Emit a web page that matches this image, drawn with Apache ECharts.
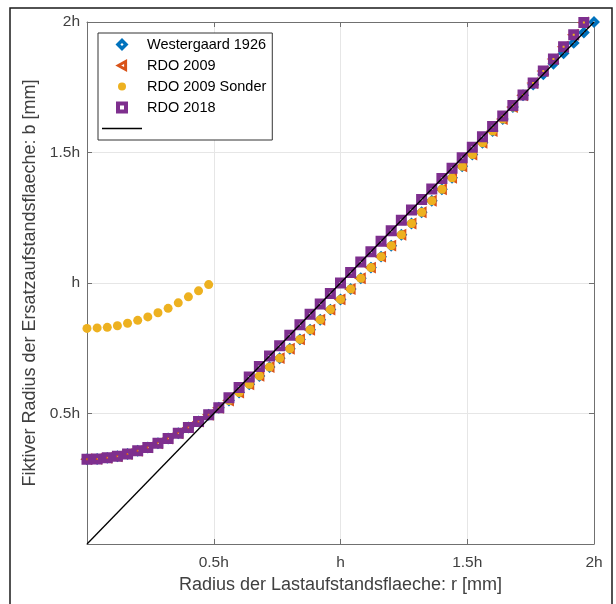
<!DOCTYPE html>
<html><head><meta charset="utf-8">
<script src="https://cdn.jsdelivr.net/npm/echarts@6/dist/echarts.min.js"></script>
<style>html,body{margin:0;padding:0;background:#fff}#c{width:616px;height:604px}</style>
</head><body><div id="c"></div>
<script>
// radius r in units of h
const rValues = [0,0.04,0.08,0.12,0.16,0.2,0.24,0.28,0.32,0.36,0.4,0.44,0.48,0.52,0.56,0.6,0.64,0.68,0.72,0.76,0.8,0.84,0.88,0.92,0.96,1,1.04,1.08,1.12,1.16,1.2,1.24,1.28,1.32,1.36,1.4,1.44,1.48,1.52,1.56,1.6,1.64,1.68,1.72,1.76,1.8,1.84,1.88,1.92,1.96,2];
// b in units of h
const westergaard1926 = [0.325,0.326,0.330,0.336,0.345,0.357,0.370,0.386,0.404,0.424,0.446,0.469,0.495,0.522,0.550,0.580,0.612,0.644,0.678,0.712,0.748,0.784,0.821,0.859,0.898,0.937,0.977,1.018,1.059,1.101,1.143,1.185,1.228,1.271,1.315,1.359,1.403,1.447,1.492,1.537,1.582,1.628,1.674,1.719,1.76,1.80,1.84,1.88,1.92,1.96,2.00];
const rdo2009 = [0.325,0.326,0.330,0.336,0.345,0.357,0.370,0.386,0.404,0.424,0.446,0.469,0.495,0.522,0.550,0.580,0.612,0.644,0.678,0.712,0.748,0.784,0.821,0.859,0.898,0.937,0.977,1.018,1.059,1.101,1.143,1.185,1.228,1.271,1.315,1.359,1.403,1.447,1.492,1.537,1.582,1.628,1.674,1.719,1.766,1.812,1.858,1.905,1.951,1.998,2.045];
const rdo2009Sonder = [0.826,0.828,0.830,0.836,0.846,0.857,0.870,0.886,0.903,0.924,0.947,0.970,0.994,0.522,0.550,0.580,0.612,0.644,0.678,0.712,0.748,0.784,0.821,0.859,0.898,0.937,0.977,1.018,1.059,1.101,1.143,1.185,1.228,1.271,1.315,1.359,1.403,1.447,1.492,1.537,1.582,1.628,1.674,1.719,1.766,1.812,1.858,1.905,1.951,1.998,2.045];
const rdo2018 = [0.325,0.326,0.330,0.336,0.345,0.357,0.370,0.386,0.404,0.424,0.446,0.469,0.495,0.522,0.56,0.60,0.64,0.68,0.72,0.76,0.80,0.84,0.88,0.92,0.96,1.00,1.04,1.08,1.12,1.16,1.20,1.24,1.28,1.32,1.36,1.40,1.44,1.48,1.52,1.56,1.60,1.64,1.68,1.72,1.766,1.812,1.858,1.905,1.951,1.998,2.045];
const refLineX = [0, 2];
const refLineY = [0, 2];
const tickValues = [0, 0.5, 1, 1.5, 2];
const tickLabels = ['', '0.5h', 'h', '1.5h', '2h'];

function pairs(xs, ys){ return xs.map((x,i)=>[x, ys[i]]); }
function labelFmt(v){ const i = tickValues.findIndex(t => Math.abs(t - v) < 1e-6); return i >= 0 ? tickLabels[i] : ''; }

const font = '"Liberation Sans", Arial, Helvetica, sans-serif';
const axisColor = '#707070';
const textColor = '#404040';
const DIAMOND = 'path://M0,-1L1,0L0,1L-1,0Z';
const TRI_LEFT = 'path://M-1,0L0.8,-1L0.8,1Z';
const SQUARE = 'path://M0,0L1,0L1,1L0,1Z';
const BAR = 'path://M0,0L40,0L40,1.3L0,1.3Z';

const chart = echarts.init(document.getElementById('c'), null, {renderer:'canvas'});
const mainAxis = (isX) => ({
  type:'value', min:0, max:2, interval:0.5,
  axisLine:{show:true, onZero:false, lineStyle:{color:axisColor, width:1}},
  axisTick:{show:true, inside:true, length:5, lineStyle:{color:axisColor, width:1}},
  axisLabel:{formatter:labelFmt, fontSize:15.5, color:textColor, fontFamily:font, margin: isX ? 11 : 7},
  splitLine:{show:true, lineStyle:{color:'#e6e6e6', width:1}},
  nameLocation:'middle',
  nameTextStyle:{fontSize:18, color:textColor, fontFamily:font}
});
const boxAxis = (pos) => ({
  type:'value', min:0, max:2, interval:0.5, position:pos,
  axisLine:{show:true, onZero:false, lineStyle:{color:axisColor, width:1}},
  axisTick:{show:true, inside:true, length:5, lineStyle:{color:axisColor, width:1}},
  axisLabel:{show:false}, splitLine:{show:false}
});
const xMain = Object.assign(mainAxis(true), {name:'Radius der Lastaufstandsflaeche: r [mm]', nameGap:32});
const yMain = Object.assign(mainAxis(false), {name:'Fiktiver Radius der Ersatzaufstandsflaeche: b [mm]', nameGap:40});

const option = {
  animation:false,
  textStyle:{fontFamily:font},
  graphic:[{type:'rect', shape:{x:10, y:8, width:602, height:640}, style:{fill:'none', stroke:'#1a1a1a', lineWidth:1.5}, silent:true, z:100}],
  grid:{left:87, right:22, top:22, bottom:60, show:false},
  xAxis:[xMain, boxAxis('top')],
  yAxis:[yMain, boxAxis('right')],
  legend:{
    orient:'vertical', left:98, top:33,
    padding:[4,6,4,4], itemWidth:40, itemHeight:8, itemGap:6,
    borderColor:'#333', borderWidth:1, backgroundColor:'#fff',
    textStyle:{fontSize:14.5, color:'#000', fontFamily:font},
    selectedMode:false, symbolKeepAspect:true,
    data:[
      {name:'Westergaard 1926', icon:DIAMOND, symbolRotate:0, itemStyle:{color:'rgba(0,0,0,0)', borderColor:'#0072BD', borderWidth:3.5}},
      {name:'RDO 2009', icon:TRI_LEFT, symbolRotate:0, itemStyle:{color:'rgba(0,0,0,0)', borderColor:'#D95319', borderWidth:3}},
      {name:'RDO 2009 Sonder', icon:'circle', symbolRotate:0, itemStyle:{color:'#EDB120', borderWidth:0}},
      {name:'RDO 2018', icon:SQUARE, symbolRotate:0, itemStyle:{color:'rgba(0,0,0,0)', borderColor:'#7E2F8E', borderWidth:4}},
      {name:' ', icon:BAR, symbolRotate:0, itemStyle:{color:'#000', borderWidth:0}, lineStyle:{color:'#000', width:1.3}}
    ]
  },
  series:[
    {name:'Westergaard 1926', type:'scatter', data:pairs(rValues, westergaard1926), symbol:'diamond', symbolSize:7,
     itemStyle:{color:'rgba(0,0,0,0)', borderColor:'#0072BD', borderWidth:3.5, opacity:1}, clip:true, emphasis:{disabled:true}, z:2},
    {name:'RDO 2009', type:'scatter', data:pairs(rValues, rdo2009), symbol:'triangle', symbolRotate:90, symbolSize:7,
     itemStyle:{color:'rgba(0,0,0,0)', borderColor:'#D95319', borderWidth:3, opacity:1}, clip:true, emphasis:{disabled:true}, z:2},
    {name:'RDO 2009 Sonder', type:'scatter', data:pairs(rValues, rdo2009Sonder), symbol:'circle', symbolSize:9,
     itemStyle:{color:'#EDB120', opacity:1}, clip:true, emphasis:{disabled:true}, z:2},
    {name:'RDO 2018', type:'scatter', data:pairs(rValues, rdo2018), symbol:'rect', symbolSize:6.5,
     itemStyle:{color:'rgba(0,0,0,0)', borderColor:'#7E2F8E', borderWidth:4.5, opacity:1}, clip:true, emphasis:{disabled:true}, z:2},
    {name:' ', type:'line', data:pairs(refLineX, refLineY), symbol:'none', showSymbol:false,
     lineStyle:{color:'#000', width:1.3}, itemStyle:{color:'#000'}, clip:true, emphasis:{disabled:true}, z:3}
  ]
};
chart.setOption(option);
</script>
</body></html>
